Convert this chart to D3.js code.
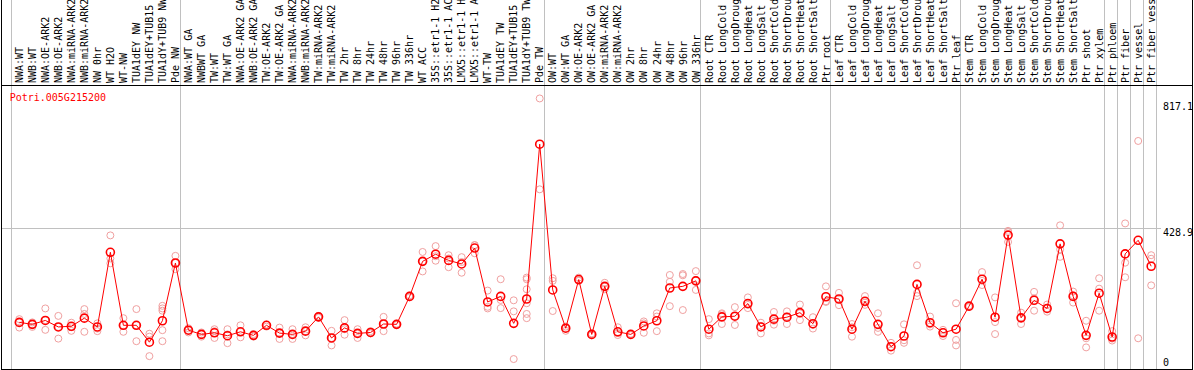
<!DOCTYPE html>
<html>
<head>
<meta charset="utf-8">
<script src="https://cdn.jsdelivr.net/npm/d3@7"></script>
<style>
  body { margin: 0; background: #fff; }
  svg { display: block; }
  text { font-family: "DejaVu Sans Mono", monospace; font-size: 10px; }
</style>
</head>
<body>
<svg id="chart" width="1194" height="370"></svg>
<script>
// data
var geneName = "Potri.005G215200";

var labels = [
  "NWA:WT", "NWB:WT", "NWA:OE-ARK2", "NWB:OE-ARK2", "NWA:miRNA-ARK2", "NWB:miRNA-ARK2",
  "NW 0hr", "WT H2O", "WT-NW", "TUA1dEY NW", "TUA1dEY+TUB15 NW", "TUA1dY+TUB9 NW", "Pde NW",
  "NWA:WT GA", "NWBWT GA", "TW:WT", "TW:WT GA", "NWA:OE-ARK2 GA", "NWB:OE-ARK2 GA",
  "TW:OE-ARK2", "TW:OE-ARK2 GA", "NWA:miRNA-ARK2", "NWB:miRNA-ARK2", "TW:miRNA-ARK2",
  "TW:miRNA-ARK2", "TW 2hr", "TW 8hr", "TW 24hr", "TW 48hr", "TW 96hr", "TW 336hr",
  "WT ACC", "35S::etr1-1 H2O", "35S::etr1-1 ACC", "LMX5::etr1-1 H2O", "LMX5::etr1-1 ACC",
  "WT-TW", "TUA1dEY TW", "TUA1dEY+TUB15 TW", "TUA1dY+TUB9 TW", "Pde TW",
  "OW:WT", "OW:WT GA", "OW:OE-ARK2", "OW:OE-ARK2 GA", "OW:miRNA-ARK2", "OW:miRNA-ARK2",
  "OW 2hr", "OW 8hr", "OW 24hr", "OW 48hr", "OW 96hr", "OW 336hr",
  "Root CTR", "Root LongCold", "Root LongDrought", "Root LongHeat", "Root LongSalt",
  "Root ShortCold", "Root ShortDrought", "Root ShortHeat", "Root ShortSalt", "Ptr root",
  "Leaf CTR", "Leaf LongCold", "Leaf LongDrought", "Leaf LongHeat", "Leaf LongSalt",
  "Leaf ShortCold", "Leaf ShortDrought", "Leaf ShortHeat", "Leaf ShortSalt", "Ptr leaf",
  "Stem CTR", "Stem LongCold", "Stem LongDrought", "Stem LongHeat", "Stem LongSalt",
  "Stem ShortCold", "Stem ShortDrought", "Stem ShortHeat", "Stem ShortSalt", "Ptr shoot",
  "Ptr xylem", "Ptr phloem", "Ptr fiber", "Ptr vessel", "Ptr fiber vessel"
];

var means = [
  139, 133, 145, 125, 127, 152, 125, 355, 130, 130, 78, 144, 322,
  115, 102, 107, 98, 110, 99, 130, 106, 102, 112, 156, 91, 122, 105, 108, 134, 133, 219,
  327, 349, 330, 319, 368, 202, 219, 136, 211, 688,
  239, 121, 271, 102, 250, 110, 102, 128, 144, 245, 250, 267,
  118, 156, 158, 197, 125, 149, 155, 169, 135, 218,
  211, 118, 204, 133, 64, 97, 256, 138, 107, 118,
  189, 272, 155, 408, 153, 207, 182, 381, 219, 99, 229,
  94, 350, 392, 312
];

var reps = [
  [149, 123, 139], [139, 125, 133], [182, 116, 146], [159, 89, 125], [138, 113, 124],
  [180, 110, 165], [136, 112, 120], [407, 321, 336], [152, 110, 130], [180, 81, 130],
  [104, 35, 95], [190, 182, 175, 115, 81], [344, 303, 322],
  [121, 108, 115], [108, 95, 102], [118, 91, 112], [118, 75, 102], [130, 93, 110],
  [103, 95, 99], [132, 126, 132], [123, 88, 106], [118, 88, 102], [124, 99, 112],
  [159, 153, 156], [113, 68, 91], [146, 101, 118], [118, 91, 105], [112, 105, 108],
  [156, 112, 134], [135, 131, 133], [222, 216, 219], [356, 296, 327], [374, 329, 343],
  [336, 309, 346], [340, 292, 325], [377, 352, 377], [237, 182, 187], [272, 183, 208],
  [207, 173, 26], [277, 272, 241, 198, 165, 152], [829, 549],
  [275, 267, 174], [126, 113, 121], [277, 267, 269], [105, 99, 102], [261, 241, 249],
  [124, 100, 106], [104, 100, 102], [142, 107, 136], [167, 112, 157], [285, 264, 189],
  [288, 284, 177], [297, 239, 270],
  [149, 99, 105], [167, 134, 164], [186, 131, 158], [216, 183, 193], [138, 105, 128],
  [171, 132, 144], [173, 134, 157], [194, 146, 167], [155, 120, 131], [250, 202, 204],
  [230, 192, 211], [134, 95, 124], [220, 193, 200], [167, 110, 122], [76, 52, 64],
  [133, 76, 84], [315, 230, 220], [157, 126, 133], [116, 97, 109], [198, 85, 68],
  [190, 186, 189], [294, 254, 267], [216, 140, 103], [421, 387, 417], [169, 134, 153],
  [233, 175, 213], [194, 172, 182], [438, 364, 341], [234, 200, 222], [144, 62, 90],
  [275, 243, 175], [112, 83, 89], [444, 323, 278], [698, 90], [346, 335, 253]
];

// group boundaries (column index where a vertical grey line sits)
var groupBreaks = [0, 13, 41, 53, 63, 73, 84, 85, 86, 87, 88];
var yTicks = [0, 428.9, 817.1];
var yGrid = [428.9];

// layout
var W = 1194, H = 370;
var headerBottom = 85.5;
var plotBottom = 369.5;
var left = 1.5, right = 1192.5;

var svg = d3.select("#chart");

var x = d3.scaleLinear().domain([0, labels.length]).range([10.7, 1155.6]);
var px = function (i) { return x(i) + 8.6; };
var y = d3.scaleLinear().domain([0, 817.1]).range([367.5, 102.3]);

// grey grid
svg.append("g")
  .selectAll("line")
  .data(groupBreaks)
  .enter()
  .append("line")
  .attr("x1", function (d) { return Math.round(x(d)) + 0.5; })
  .attr("x2", function (d) { return Math.round(x(d)) + 0.5; })
  .attr("y1", 0)
  .attr("y2", plotBottom)
  .attr("stroke", "#c0c0c0")
  .attr("shape-rendering", "crispEdges");

svg.append("g")
  .selectAll("line")
  .data(yGrid)
  .enter()
  .append("line")
  .attr("x1", left)
  .attr("x2", 1161)
  .attr("y1", function (d) { return Math.round(y(d)) + 0.5; })
  .attr("y2", function (d) { return Math.round(y(d)) + 0.5; })
  .attr("stroke", "#c0c0c0")
  .attr("shape-rendering", "crispEdges");

// frame
var frame = svg.append("g").attr("stroke", "#000").attr("shape-rendering", "crispEdges");
frame.append("line").attr("x1", left).attr("x2", left).attr("y1", 0).attr("y2", plotBottom);
frame.append("line").attr("x1", right).attr("x2", right).attr("y1", 0).attr("y2", plotBottom);
frame.append("line").attr("x1", left).attr("x2", right).attr("y1", plotBottom).attr("y2", plotBottom);
frame.append("line").attr("x1", left).attr("x2", right).attr("y1", headerBottom).attr("y2", headerBottom);

// column labels (rotated)
svg.append("g")
  .selectAll("text")
  .data(labels)
  .enter()
  .append("text")
  .attr("transform", function (d, i) {
    return "translate(" + (px(i) + 3.7) + ",83) rotate(-90)";
  })
  .attr("fill", "#000")
  .text(function (d) { return d; });

// gene name
svg.append("text")
  .attr("x", 9.7)
  .attr("y", 100.5)
  .attr("fill", "#ff0000")
  .text(geneName);

// y tick labels on the right
svg.append("g")
  .selectAll("text")
  .data(yTicks)
  .enter()
  .append("text")
  .attr("x", 1163)
  .attr("y", function (d) { return Math.min(y(d) + 8, 366.3); })
  .attr("fill", "#000")
  .text(function (d) { return d; });

// replicate points
var repPoints = [];
for (var i = 0; i < reps.length; i++) {
  for (var j = 0; j < reps[i].length; j++) {
    repPoints.push({ i: i, v: reps[i][j] });
  }
}
svg.append("g")
  .selectAll("circle")
  .data(repPoints)
  .enter()
  .append("circle")
  .attr("cx", function (d) { return px(d.i); })
  .attr("cy", function (d) { return y(d.v); })
  .attr("r", 3.5)
  .attr("fill", "none")
  .attr("stroke", "#f0a0a0")
  .attr("stroke-width", 1);

// mean line
var line = d3.line()
  .x(function (d, i) { return px(i); })
  .y(function (d) { return y(d); });
svg.append("path")
  .datum(means)
  .attr("d", line)
  .attr("fill", "none")
  .attr("stroke", "#ff0000")
  .attr("stroke-width", 1);

svg.append("g")
  .selectAll("circle")
  .data(means)
  .enter()
  .append("circle")
  .attr("cx", function (d, i) { return px(i); })
  .attr("cy", function (d) { return y(d); })
  .attr("r", 4)
  .attr("fill", "none")
  .attr("stroke", "#ff0000")
  .attr("stroke-width", 1.6);
</script>
</body>
</html>
